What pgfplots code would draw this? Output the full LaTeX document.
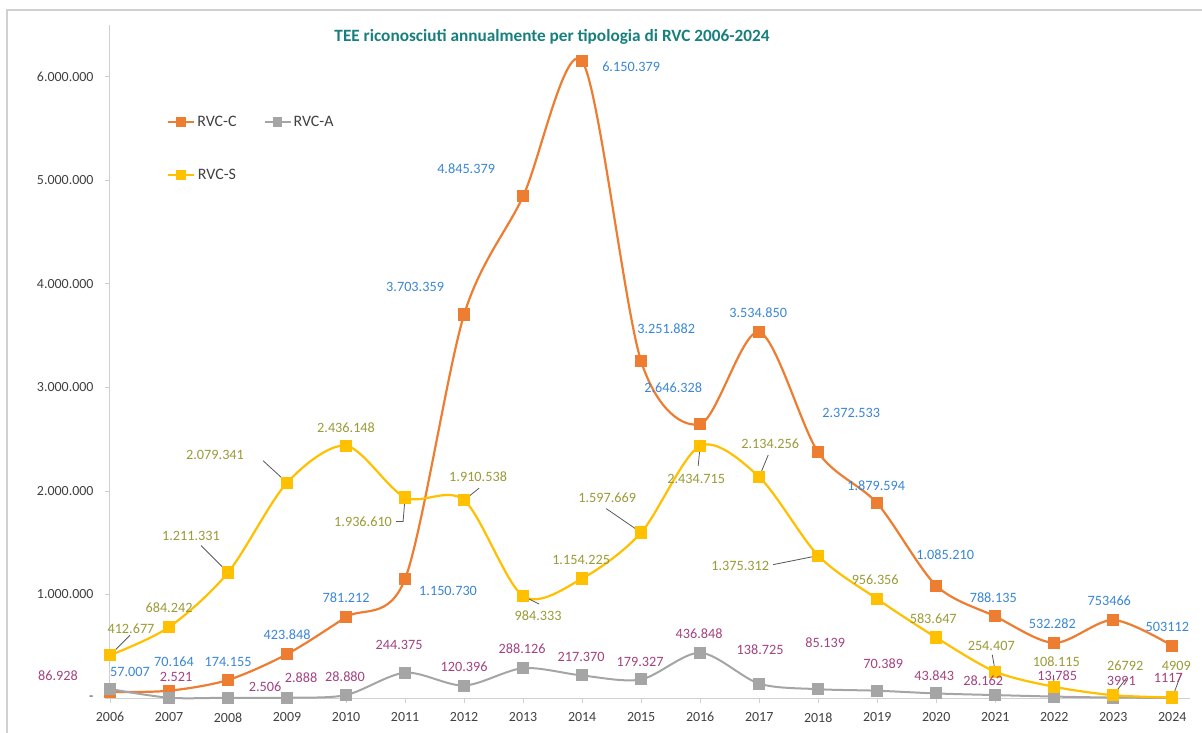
\documentclass[border=0pt]{standalone}
\usepackage{fontspec}
\setmainfont{Carlito}
\usepackage{pgfplots}
\pgfplotsset{compat=1.18}
\usepackage{pgfplotstable}

\definecolor{cC}{HTML}{ED7D31}
\definecolor{cA}{HTML}{A5A5A5}
\definecolor{cS}{HTML}{FFC000}
\definecolor{lC}{HTML}{3A86D4}
\definecolor{lA}{HTML}{A3427F}
\definecolor{lS}{HTML}{9A9A38}
\definecolor{ttl}{HTML}{17807E}
\definecolor{axgray}{HTML}{D0D0D0}
\definecolor{txt}{HTML}{404040}
\definecolor{lead}{HTML}{595959}

% x y dx dy lab  (dx, dy = label offset in bp)
\pgfplotstableread{
x y dx dy lab
2006 57007 20 20 57.007
2007 70164 5 29 70.164
2008 174155 0 18 174.155
2009 423848 0 19 423.848
2010 781212 0 19 781.212
2011 1150730 43 -12 1.150.730
2012 3703359 -49 28 3.703.359
2013 4845379 -57 28 4.845.379
2014 6150379 49 -6 6.150.379
2015 3251882 25 33 3.251.882
2016 2646328 -27 36 2.646.328
2017 3534850 -1 19 3.534.850
2018 2372533 33 39 2.372.533
2019 1879594 -1 18 1.879.594
2020 1085210 9 31 1.085.210
2021 788135 -2 19 788.135
2022 532282 -2 19 532.282
2023 753466 -4 19 753466
2024 503112 -5 19 503112
}\tabC

\pgfplotstableread{
x y dx dy lab
2006 86928 -52 13 86.928
2007 2521 7 21 2.521
2008 2506 37 11 2.506
2009 2888 14 20 2.888
2010 28880 -1 18 28.880
2011 244375 -6 28 244.375
2012 120396 0 19 120.396
2013 288126 -1 19 288.126
2014 217370 -1 19 217.370
2015 179327 -1 18 179.327
2016 436848 -1 19 436.848
2017 138725 1 34 138.725
2018 85139 7 46 85.139
2019 70389 6 27 70.389
2020 43843 -2 18 43.843
2021 28162 -12 14 28.162
2022 13785 3 21 13.785
2023 3991 8 17 3991
2024 1117 -4 20 1117
}\tabA

\pgfplotstableread{
x y dx dy lab
2006 412677 21 27 412.677
2007 684242 0 19 684.242
2008 1211331 -37 37 1.211.331
2009 2079341 -72 28 2.079.341
2010 2436148 0 18 2.436.148
2011 1936610 -42 -24 1.936.610
2012 1910538 14 23 1.910.538
2013 984333 15 -20 984.333
2014 1154225 -1 19 1.154.225
2015 1597669 -34 35 1.597.669
2016 2434715 -4 -33 2.434.715
2017 2134256 11 33 2.134.256
2018 1375312 -78 -10 1.375.312
2019 956356 -2 19 956.356
2020 583647 -3 19 583.647
2021 254407 -4 26 254.407
2022 108115 2 25 108.115
2023 26792 12 29 26792
2024 4909 4 32 4909
}\tabS

\pgfplotsset{
  lbls/.style={draw=none, mark=none, forget plot,
    nodes near coords, point meta=explicit symbolic,
    visualization depends on={\thisrow{dx}\as\dx},
    visualization depends on={\thisrow{dy}\as\dy},
    every node near coord/.append style={anchor=center, inner sep=0pt,
      xshift=\dx bp, yshift=\dy bp, text=#1,
      font=\fontsize{14.3}{16}\selectfont}},
}
\tikzset{leader/.style={draw=lead, line width=0.8bp}}

\begin{document}
\begin{tikzpicture}
\useasboundingbox (-110bp,-35bp) rectangle (1092bp,698bp);
\draw[axgray, line width=1.5bp] (-103bp,-35bp) -- (-103bp,688bp) -- (1092bp,688bp);
\begin{axis}[
  scale only axis, width=1080bp, height=673bp,
  xmin=2006, xmax=2024.3, ymin=0, ymax=6500000,
  axis lines*=left, axis line style={axgray, line width=1bp},
  clip=false,
  xtick={2006,2007,2008,2009,2010,2011,2012,2013,2014,2015,2016,2017,2018,2019,2020,2021,2022,2023,2024},
  xticklabels={2006,2007,2008,2009,2010,2011,2012,2013,2014,2015,2016,2017,2018,2019,2020,2021,2022,2023,2024},
  ytick={0,1000000,2000000,3000000,4000000,5000000,6000000},
  yticklabels={-,1.000.000,2.000.000,3.000.000,4.000.000,5.000.000,6.000.000},
  tick style={axgray, line width=0.8bp}, tick align=outside, major tick length=5bp,
  ticklabel style={font=\fontsize{14}{16}\selectfont, text=txt},
  xticklabel style={yshift=-6bp},
  yticklabel style={xshift=-8bp},
  scaled y ticks=false,
  legend columns=2,
  legend image code/.code={\draw[mark repeat=2,mark phase=2,#1,mark size=3.7bp] plot coordinates {(0bp,0bp)(13bp,0bp)(26bp,0bp)};},
  legend style={at={(0.050,0.871)}, anchor=north west, draw=none, fill=none,
    font=\fontsize{16}{18}\selectfont, text=txt, row sep=37bp,
    /tikz/every even column/.append style={column sep=25bp}},
]
\addplot[smooth, cC, line width=2.2bp, mark=square*, mark size=5bp, mark options={solid}] table[x=x,y=y] {\tabC};
\addplot[smooth, cA, line width=2bp, mark=square*, mark size=5bp, mark options={solid}] table[x=x,y=y] {\tabA};
\addplot[smooth, cS, line width=2.2bp, mark=square*, mark size=5bp, mark options={solid}] table[x=x,y=y] {\tabS};
\legend{RVC-C,RVC-A,RVC-S}

\draw[leader] (axis cs:2006,412677) -- ++(20bp,20bp);
\draw[leader] (axis cs:2008,1211331) -- ++(-27bp,27bp);
\draw[leader] (axis cs:2009,2079341) -- ++(-24bp,22bp);
\draw[leader] (axis cs:2011,1936610) -- ++(-2bp,-24bp) -- ++(-7bp,0bp);
\draw[leader] (axis cs:2012,1910538) -- ++(15bp,12bp);
\draw[leader] (axis cs:2013,984333) -- ++(16bp,-8bp);
\draw[leader] (axis cs:2015,1597669) -- ++(-35bp,24bp);
\draw[leader] (axis cs:2016,2434715) -- ++(-2bp,-20bp);
\draw[leader] (axis cs:2017,2134256) -- ++(9bp,22bp);
\draw[leader] (axis cs:2018,1375312) -- ++(-45bp,-9bp);
\draw[leader] (axis cs:2021,254407) -- ++(-3bp,17bp);
\draw[leader] (axis cs:2022,108115) -- ++(-1bp,12bp);
\draw[leader] (axis cs:2023,26792) -- ++(13bp,17bp);
\draw[leader] (axis cs:2024,4909) -- ++(9bp,24bp);

\addplot[lbls=lC] table[x=x,y=y,meta=lab] {\tabC};
\addplot[lbls=lA] table[x=x,y=y,meta=lab] {\tabA};
\addplot[lbls=lS] table[x=x,y=y,meta=lab] {\tabS};
\end{axis}
\node[font=\bfseries\fontsize{17.3}{20}\selectfont, text=ttl] at (442bp,661bp)
  {TEE riconosciuti annualmente per tipologia di RVC 2006-2024};
\end{tikzpicture}
\end{document}
